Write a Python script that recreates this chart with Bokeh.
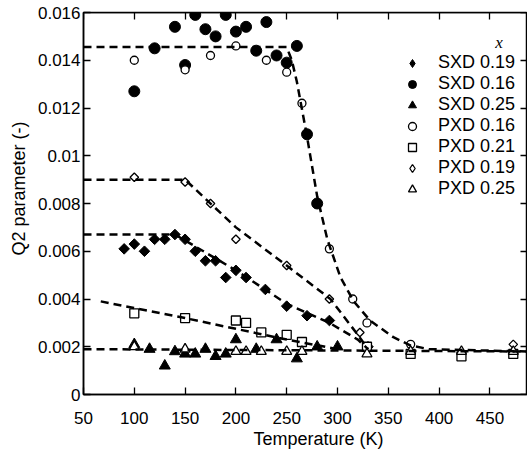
import math
from bokeh.plotting import figure
from bokeh.models import LinearAxis, FixedTicker, Legend, LegendItem, Label, Range1d, Title
from bokeh.embed import file_html
from bokeh.resources import INLINE

FONT = "Liberation Sans"

# ---- data ----
sxd019_T = [90, 100, 110, 120, 130, 140, 150, 160, 170, 180, 190, 200, 210, 229, 250, 270, 292, 330]
sxd019_Q = [0.0061, 0.0063, 0.0060, 0.0065, 0.0065, 0.0067, 0.0065, 0.0060, 0.0056, 0.0056,
            0.0049, 0.0052, 0.0049, 0.0044, 0.0037, 0.0033, 0.0031, 0.0020]

sxd016_T = [100, 120, 140, 150, 160, 170, 180, 190, 200, 210, 220, 230, 240, 250, 260, 270, 280]
sxd016_Q = [0.0127, 0.0145, 0.0154, 0.0138, 0.0159, 0.0153, 0.0150, 0.0159, 0.0152, 0.0154,
            0.0144, 0.0156, 0.0142, 0.0139, 0.0146, 0.0109, 0.0080]

sxd025_T = [100, 115, 130, 140, 150, 160, 170, 180, 190, 200, 220, 240, 260, 280, 300]
sxd025_Q = [0.0021, 0.0019, 0.0012, 0.0018, 0.0017, 0.0017, 0.0019, 0.0016, 0.0017, 0.0023,
            0.0019, 0.0023, 0.0015, 0.0020, 0.0020]

pxd016_T = [100, 150, 175, 200, 230, 250, 265, 292, 315, 329, 372]
pxd016_Q = [0.0140, 0.0136, 0.0142, 0.0146, 0.0140, 0.0135, 0.0122, 0.0061, 0.0040, 0.0030, 0.0021]

pxd021_T = [100, 150, 200, 210, 225, 250, 265, 329, 372, 422, 473]
pxd021_Q = [0.0034, 0.0032, 0.0031, 0.0030, 0.0026, 0.0025, 0.0022, 0.0020, 0.0017, 0.0016, 0.0017]

pxd019_T = [100, 150, 175, 200, 250, 292, 322, 473]
pxd019_Q = [0.0091, 0.0089, 0.0080, 0.0065, 0.0054, 0.0040, 0.0026, 0.0021]

pxd025_T = [100, 150, 200, 210, 225, 250, 265, 329, 372, 422, 473]
pxd025_Q = [0.0020, 0.0019, 0.0018, 0.0018, 0.0018, 0.0018, 0.0018, 0.0017, 0.0018, 0.0018, 0.0018]

# dashed guide curves
fit016_T = [50, 250, 255, 260, 270, 280, 290, 303, 316, 332, 355, 372, 390, 487]
fit016_Q = [0.01455, 0.01455, 0.0140, 0.0131, 0.0108, 0.0083, 0.0065, 0.0049, 0.0039, 0.0031,
            0.0024, 0.00205, 0.0019, 0.0018]
fitp019_T = [50, 150, 200, 250, 293, 320, 330]
fitp019_Q = [0.0090, 0.0090, 0.0070, 0.0054, 0.0040, 0.0025, 0.0019]
fits019_T = [50, 140, 200, 250, 292, 320, 330]
fits019_Q = [0.0067, 0.0067, 0.0052, 0.0038, 0.0030, 0.0023, 0.0019]
fit021_T = [67, 150, 200, 250, 300]
fit021_Q = [0.0039, 0.0032, 0.00275, 0.0023, 0.0019]
fitbase_T = [50, 487]
fitbase_Q = [0.0019, 0.0018]

x_ticks = [50, 100, 150, 200, 250, 300, 350, 400, 450]
y_ticks = [0, 0.002, 0.004, 0.006, 0.008, 0.01, 0.012, 0.014, 0.016]
y_tick_labels = ["0", "0.002", "0.004", "0.006", "0.008", "0.01", "0.012", "0.014", "0.016"]

X_MIN, X_MAX = 50, 487
Y_MIN, Y_MAX = 0, 0.016

p = figure(width=527, height=452, output_backend="svg", toolbar_location=None,
           x_range=Range1d(X_MIN, X_MAX), y_range=Range1d(Y_MIN, Y_MAX),
           min_border_left=83, min_border_right=0, min_border_top=12, min_border_bottom=58)
p.grid.visible = False
p.outline_line_color = "black"
p.outline_line_width = 1.5
p.background_fill_color = "white"
p.border_fill_color = "white"


def style_axis(ax, labels=True):
    ax.axis_line_color = "black"
    ax.axis_line_width = 1.5
    ax.major_tick_in = 7
    ax.major_tick_out = 0
    ax.minor_tick_in = 0
    ax.minor_tick_out = 0
    ax.major_tick_line_width = 1.3
    ax.minor_tick_line_color = None
    ax.major_label_text_font = FONT
    ax.major_label_text_color = "black"
    if labels:
        ax.major_label_text_font_size = "17px"
    else:
        ax.major_label_text_font_size = "0px"
        ax.major_label_standoff = 0
        ax.axis_label_standoff = 0


xa = p.xaxis[0]
ya = p.yaxis[0]
style_axis(xa)
style_axis(ya)
xa.ticker = FixedTicker(ticks=x_ticks)
ya.ticker = FixedTicker(ticks=y_ticks)
ya.major_label_overrides = {v: s for v, s in zip(y_ticks, y_tick_labels)}
xa.major_label_standoff = 17
ya.major_label_standoff = 3

# axis titles (side titles, nudged along their axes)
p.add_layout(Title(text="Temperature (K)", align="left", offset=170, standoff=0,
                   text_font=FONT, text_font_size="18px", text_font_style="normal",
                   text_color="black"), "below")
p.add_layout(Title(text="Q2 parameter (-)", align="left", offset=139, standoff=11,
                   text_font=FONT, text_font_size="18px", text_font_style="normal",
                   text_color="black"), "left")

# mirrored tick marks on the top and right edges of the frame (no labels)
top = LinearAxis(ticker=FixedTicker(ticks=x_ticks), fixed_location=Y_MAX)
style_axis(top, labels=False)
top.major_label_overrides = {v: "" for v in x_ticks}
p.add_layout(top, "above")
right = LinearAxis(ticker=FixedTicker(ticks=y_ticks), fixed_location=X_MAX)
style_axis(right, labels=False)
right.major_label_overrides = {v: "" for v in y_ticks}
p.add_layout(right, "right")

# tiny diamond renderers (hidden under the data marks) that supply the legend glyphs
leg_s019 = p.scatter(sxd019_T, sxd019_Q, marker="diamond", size=1, fill_color="black", line_color="black")
leg_p019 = p.scatter(pxd019_T, pxd019_Q, marker="diamond", size=1, fill_color="white",
                     line_color="black", line_width=1.3)

DIAMOND = math.pi / 4
r_s019 = p.scatter(sxd019_T, sxd019_Q, marker="square", angle=DIAMOND, size=7.5,
                   fill_color="black", line_color="black")
r_s016 = p.scatter(sxd016_T, sxd016_Q, marker="circle", size=11, fill_color="black", line_color="black")
r_s025 = p.scatter(sxd025_T, sxd025_Q, marker="triangle", size=11, fill_color="black", line_color="black")
r_p016 = p.scatter(pxd016_T, pxd016_Q, marker="circle", size=8, fill_color="white", line_color="black", line_width=1.3)
r_p021 = p.scatter(pxd021_T, pxd021_Q, marker="square", size=9, fill_color="white", line_color="black", line_width=1.3)
r_p019 = p.scatter(pxd019_T, pxd019_Q, marker="square", angle=DIAMOND, size=6,
                   fill_color="white", line_color="black", line_width=1.3)
r_p025 = p.scatter(pxd025_T, pxd025_Q, marker="triangle", size=10, fill_color="white", line_color="black", line_width=1.3)

for tx, qy in [(fit016_T, fit016_Q), (fitp019_T, fitp019_Q), (fits019_T, fits019_Q),
               (fit021_T, fit021_Q), (fitbase_T, fitbase_Q)]:
    p.line(tx, qy, line_color="black", line_width=2.5, line_dash="8 5")

legend = Legend(items=[
    LegendItem(label="SXD 0.19", renderers=[leg_s019]),
    LegendItem(label="SXD 0.16", renderers=[r_s016]),
    LegendItem(label="SXD 0.25", renderers=[r_s025]),
    LegendItem(label="PXD 0.16", renderers=[r_p016]),
    LegendItem(label="PXD 0.21", renderers=[r_p021]),
    LegendItem(label="PXD 0.19", renderers=[leg_p019]),
    LegendItem(label="PXD 0.25", renderers=[r_p025]),
], location=(319, 195), border_line_alpha=0, background_fill_alpha=0,
    label_text_font=FONT, label_text_font_size="18px", label_text_color="black",
    label_text_line_height=1.0,
    glyph_width=20, glyph_height=20, label_height=18, label_standoff=16,
    spacing=0, padding=0, margin=0)
p.add_layout(legend)

p.add_layout(Label(x=459, y=0.01474, text="x", text_font="Liberation Serif",
                   text_font_style="italic", text_font_size="17px",
                   text_align="center", text_baseline="middle", text_color="black"))

open("out.html", "w").write(file_html(p, INLINE))
